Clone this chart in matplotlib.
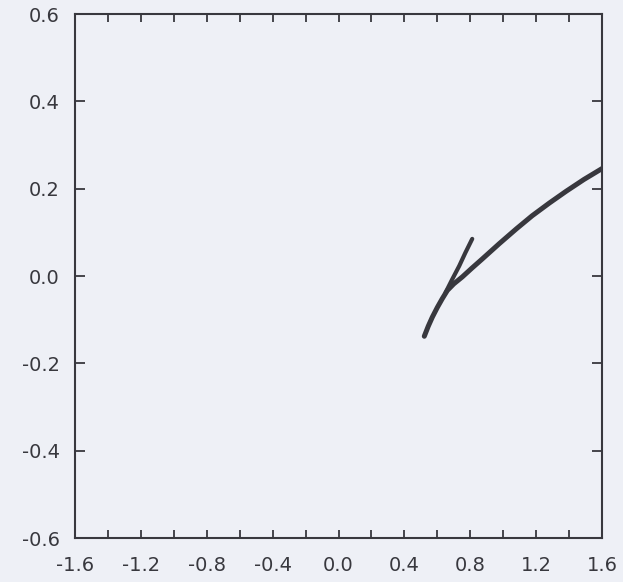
import matplotlib
matplotlib.use("Agg")
import matplotlib.pyplot as plt
from matplotlib.ticker import MultipleLocator

# --- data ---
main_x = [0.521, 0.545, 0.570, 0.600, 0.630, 0.661, 0.700, 0.752, 0.810, 0.870, 0.976, 1.080, 1.176, 1.280, 1.382, 1.490, 1.600]
main_y = [-0.138, -0.115, -0.094, -0.072, -0.052, -0.033, -0.018, -0.002, 0.018, 0.038, 0.074, 0.108, 0.138, 0.167, 0.194, 0.221, 0.246]

branch_x = [0.650, 0.690, 0.733, 0.770, 0.812]
branch_y = [-0.038, -0.008, 0.023, 0.053, 0.085]

x_major = [-1.6, -1.2, -0.8, -0.4, 0.0, 0.4, 0.8, 1.2, 1.6]
y_major = [-0.6, -0.4, -0.2, 0.0, 0.2, 0.4, 0.6]

paper = "#eef0f6"
ink = "#38383e"

plt.rcParams["axes.unicode_minus"] = False

W, H = 623, 582
fig = plt.figure(figsize=(W / 100, H / 100), dpi=100, facecolor=paper)
ax = fig.add_axes([75 / W, (H - 538) / H, (602 - 75) / W, (538 - 14) / H], facecolor=paper)

ax.plot(main_x, main_y, color=ink, lw=3.6, solid_capstyle="round", solid_joinstyle="round")
ax.plot(branch_x, branch_y, color=ink, lw=3.0, solid_capstyle="round", solid_joinstyle="round")

ax.set_xlim(-1.6, 1.6)
ax.set_ylim(-0.6, 0.6)
ax.set_xticks(x_major)
ax.set_xticklabels([f"{v:.1f}" for v in x_major])
ax.set_yticks(y_major)
ax.set_yticklabels([f"{v:.1f}" for v in y_major])
ax.xaxis.set_minor_locator(MultipleLocator(0.2))

for s in ax.spines.values():
    s.set_color(ink)
    s.set_linewidth(1.5)

ax.tick_params(axis="x", which="both", direction="in", top=True, bottom=True,
               length=6, width=1.3, color=ink, labelsize=14, labelcolor=ink, pad=13)
ax.tick_params(axis="y", which="both", direction="in", left=True, right=True,
               length=7, width=1.3, color=ink, labelsize=14, labelcolor=ink, pad=11)

fig.savefig("out.png", dpi=100, facecolor=paper)
